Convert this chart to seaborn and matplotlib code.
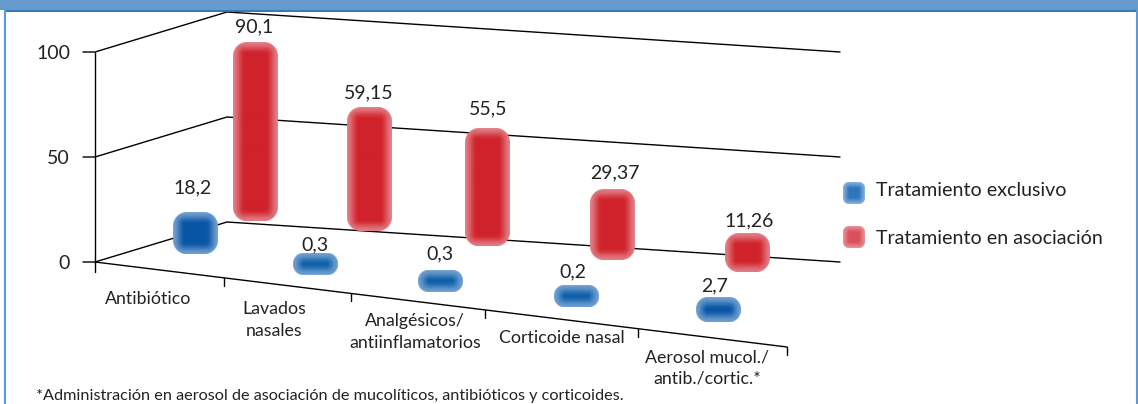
import numpy as np
import pandas as pd
import seaborn as sns
from matplotlib import pyplot as plt
from matplotlib.colors import to_rgb

categories = ["Antibiótico", "Lavados\nnasales", "Analgésicos/\nantiinflamatorios", "Corticoide nasal", "Aerosol mucol./\nantib./cortic.*"]
exclusivo = [18.2, 0.3, 0.3, 0.2, 2.7]
asociacion = [90.1, 59.15, 55.5, 29.37, 11.26]
y_ticks = [0, 50, 100]
legend_labels = ["Tratamiento exclusivo", "Tratamiento en asociación"]
footnote = "*Administración en aerosol de asociación de mucolíticos, antibióticos y corticoides."

# layout in pixels of the 1138x404 picture
W, H = 1138, 404
Y0 = 262
PX_PER_UNIT = 2.1
BAR_W = 45
blue_x = [196, 316, 441, 577, 719]
blue_floor = [254, 275, 292, 307, 322]
red_x = [256, 370, 488, 613, 748]
red_floor = [221, 231, 246, 260, 272]
blue_gap = [24, 9, 17, 14, 12]
red_gap = [15, 14, 20, 16, 13]
blue_dx = [-3, -1, -1, -4, -4]
red_dx = [-2, -1, 0, 2, 1]
cat_xy = [(148, 299), (274, 320), (415, 332), (562, 338), (707, 368)]
floor_ticks = [224, 351, 485, 638, 787]

sns.set_theme(style="white")
plt.rcParams["font.family"] = ["Lato", "DejaVu Sans"]
TXT = "#222222"
FS = 14


def to_y(py):
    return (Y0 - py) / PX_PER_UNIT


# soft rounded bar, darker in the middle and washed out towards the edge
def soft_bar(ax, x0, x1, py0, py1, center, edge, radius=14, blur=12):
    ss = 3
    nx = int((x1 - x0) * ss)
    ny = int((py1 - py0) * ss)
    xx = (np.arange(nx) + 0.5) / ss
    yy = (np.arange(ny) + 0.5) / ss
    xg, yg = np.meshgrid(xx, yy)
    w, h = x1 - x0, py1 - py0
    r = min(radius, h / 2 - 0.5)
    qx = np.abs(xg - w / 2) - (w / 2 - r)
    qy = np.abs(yg - h / 2) - (h / 2 - r)
    d = -(np.hypot(np.maximum(qx, 0), np.maximum(qy, 0)) + np.minimum(np.maximum(qx, qy), 0) - r)
    # product of two edge profiles, an sdf ramp leaves visible ridges
    sx = np.clip(np.minimum(xg, w - xg) / blur, 0, 1)
    sy = np.clip(np.minimum(yg, h - yg) / min(blur, h / 2), 0, 1)
    t = (sx * sx * (3 - 2 * sx)) * (sy * sy * (3 - 2 * sy))
    c0 = np.array(to_rgb(edge))
    c1 = np.array(to_rgb(center))
    rgba = np.zeros((ny, nx, 4))
    rgba[..., :3] = c0 + (c1 - c0) * t[..., None]
    rgba[..., 3] = np.clip(d * 2 + 0.5, 0, 1)
    ax.imshow(rgba, extent=(x0, x1, to_y(py1), to_y(py0)), aspect="auto", origin="upper",
              interpolation="bilinear", zorder=4)


fig = plt.figure(figsize=(W / 100, H / 100), dpi=100)
ax = fig.add_axes([0, 0, 1, 1])

# bars come from seaborn on a native x scale, then get restyled below
blue_h = [(21 + 1.15 * v) / PX_PER_UNIT for v in exclusivo]
red_h = [(18.5 + 1.78 * v) / PX_PER_UNIT for v in asociacion]
df_blue = pd.DataFrame({"x": blue_x, "h": blue_h})
df_red = pd.DataFrame({"x": red_x, "h": red_h})
sns.barplot(data=df_blue, x="x", y="h", native_scale=True, width=BAR_W / 120, color="#0a55a5", ax=ax)
n_blue = len(ax.patches)
sns.barplot(data=df_red, x="x", y="h", native_scale=True, width=BAR_W / 114, color="#d0222b", ax=ax)

bars = list(ax.patches)
floors = blue_floor + red_floor
gaps = blue_gap + red_gap
dxs = blue_dx + red_dx
vals = exclusivo + asociacion
for i, b in enumerate(bars):
    x0, x1 = b.get_x(), b.get_x() + b.get_width()
    top = floors[i] - b.get_height() * PX_PER_UNIT
    if i < n_blue:
        # the flat little blue bars are paler in the middle
        centre = "#0a55a5" if vals[i] > 1 else "#1060a8"
        soft_bar(ax, x0, x1, top, floors[i], centre, "#6f9fd0")
    else:
        soft_bar(ax, x0, x1, top, floors[i], "#d0222b", "#e27c84")
    b.set_visible(False)
    ax.text((x0 + x1) / 2 + dxs[i], to_y(top - gaps[i]), str(vals[i]).replace(".", ","),
            ha="center", va="center", fontsize=FS, color=TXT, zorder=6)

# walls, floor and the gridlines of the fake 3d box
for t in y_ticks:
    ax.plot([83, 95, 227, 840], [t, t, t + 40 / PX_PER_UNIT, t], color="black", lw=1.0, zorder=2)
    ax.text(70, t - 0.5, str(t), ha="right", va="center", fontsize=FS, color=TXT)
ax.plot([95, 95], [to_y(272), y_ticks[-1]], color="black", lw=1.0, zorder=2)
ax.plot([95, 787], [0, to_y(347)], color="black", lw=1.0, zorder=2)
for fx in floor_ticks:
    py = Y0 + (fx - 95) * 85 / 692
    ax.plot([fx, fx], [to_y(py), to_y(py + 8)], color="black", lw=1.0, zorder=2)

for lab, (cx, cy) in zip(categories, cat_xy):
    ax.text(cx, to_y(cy), lab, ha="center", va="center", fontsize=FS - 1.2, color=TXT, linespacing=1.4)

# legend
for lab, col, edge, sy, ty in zip(legend_labels, ["#2f75bb", "#d9505a"], ["#7fabd8", "#e78a92"], [193.5, 237], [191, 239]):
    soft_bar(ax, 843, 865, sy - 11, sy + 11, col, edge, radius=6, blur=7)
    ax.text(876, to_y(ty), lab, ha="left", va="center", fontsize=FS + 0.1, color=TXT)

ax.text(36, to_y(396), footnote, ha="left", va="center", fontsize=FS - 2.3, color=TXT)

# header strip and panel frame
ax.fill_between([0, W], to_y(0), to_y(10), color="#6699cc", lw=0, zorder=7)
ax.plot([5, W - 1], [to_y(10.5), to_y(10.5)], color="#1f6cb5", lw=1.3, zorder=8)
ax.plot([5, 5], [to_y(10), to_y(H)], color="#5b9ad6", lw=1.5, zorder=8)
ax.plot([W - 1, W - 1], [to_y(10), to_y(H)], color="#5b9ad6", lw=1.5, zorder=8)

ax.set_xlim(0, W)
ax.set_ylim(to_y(H), to_y(0))
ax.axis("off")
fig.savefig("out.png", dpi=100)
